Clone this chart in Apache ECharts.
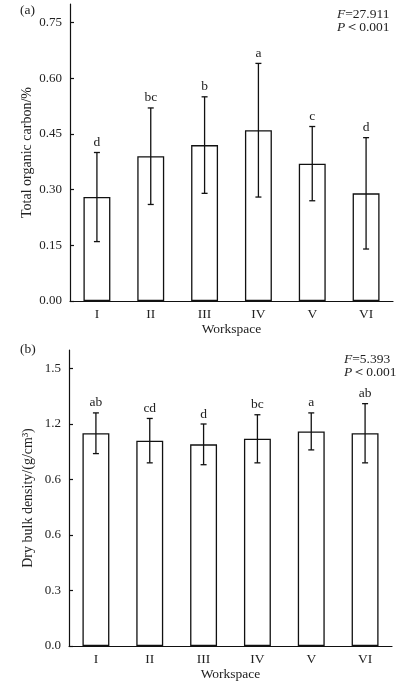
<!DOCTYPE html>
<html>
<head>
<meta charset="utf-8">
<script src="https://cdn.jsdelivr.net/npm/echarts@6/dist/echarts.min.js"></script>
<style>
html,body{margin:0;padding:0;background:#fff;}
#chart{width:414px;height:685px;}
</style>
</head>
<body>
<div id="chart"></div>
<script>
var categories = ['I', 'II', 'III', 'IV', 'V', 'VI'];

var tocMean = [0.28, 0.39, 0.42, 0.46, 0.37, 0.29];
var tocLow  = [0.16, 0.26, 0.29, 0.28, 0.27, 0.14];
var tocHigh = [0.40, 0.52, 0.55, 0.64, 0.47, 0.44];
var tocLetters = ['d', 'bc', 'b', 'a', 'c', 'd'];
var tocTicks = [0, 0.15, 0.30, 0.45, 0.60, 0.75];
var tocTickLabels = ['0.00', '0.15', '0.30', '0.45', '0.60', '0.75'];

var bdMean = [1.15, 1.11, 1.09, 1.12, 1.16, 1.15];
var bdLow  = [1.04, 0.99, 0.98, 0.99, 1.06, 0.99];
var bdHigh = [1.26, 1.23, 1.20, 1.25, 1.26, 1.31];
var bdLetters = ['ab', 'cd', 'd', 'bc', 'a', 'ab'];
var bdTicks = [0, 0.3, 0.6, 0.9, 1.2, 1.5];
var bdTickLabels = ['0.0', '0.3', '0.6', '0.6', '1.2', '1.5'];

var FONT = '"Liberation Serif", "Times New Roman", serif';
var TXT = '#222';

function errData(lo, hi, letters) {
  return lo.map(function (v, i) { return [i, v, hi[i], letters[i]]; });
}

function errRender(params, api) {
  var i = api.value(0);
  var pHi = api.coord([i, api.value(2)]);
  var pLo = api.coord([i, api.value(1)]);
  var x = pHi[0];
  var cap = 3;
  var st = { stroke: '#111', lineWidth: 1.3 };
  return {
    type: 'group',
    children: [
      { type: 'line', shape: { x1: x, y1: pHi[1], x2: x, y2: pLo[1] }, style: st },
      { type: 'line', shape: { x1: x - cap, y1: pHi[1], x2: x + cap, y2: pHi[1] }, style: st },
      { type: 'line', shape: { x1: x - cap, y1: pLo[1], x2: x + cap, y2: pLo[1] }, style: st },
      { type: 'text', style: { x: x, y: pHi[1] - 3, text: api.value(3), align: 'center', verticalAlign: 'bottom', fontFamily: FONT, fontSize: 13.5, fill: TXT } }
    ]
  };
}

function yAxisCfg(gridIndex, max, ticks, labels, name, gap) {
  return {
    type: 'value', gridIndex: gridIndex, min: 0, max: max,
    name: name, nameLocation: 'middle', nameGap: gap, nameRotate: 90, nameMoveOverlap: false,
    nameTextStyle: { fontFamily: FONT, fontSize: 14, color: TXT },
    axisLine: { show: true, lineStyle: { color: '#111', width: 1.2 } },
    axisTick: { show: true, inside: true, length: 4, customValues: ticks, lineStyle: { color: '#111', width: 1.2 } },
    axisLabel: {
      customValues: ticks, margin: 8, fontFamily: FONT, fontSize: 13, color: TXT,
      formatter: function (v) {
        for (var k = 0; k < ticks.length; k++) { if (Math.abs(ticks[k] - v) < 1e-6) return labels[k]; }
        return '';
      }
    },
    splitLine: { show: false }
  };
}

function xAxisCfg(gridIndex) {
  return {
    type: 'category', gridIndex: gridIndex, data: categories,
    name: 'Workspace', nameLocation: 'middle', nameGap: 21, nameMoveOverlap: false,
    nameTextStyle: { fontFamily: FONT, fontSize: 13.5, color: TXT },
    axisLine: { show: true, lineStyle: { color: '#111', width: 1.2 } },
    axisTick: { show: false },
    axisLabel: { margin: 6, fontFamily: FONT, fontSize: 13.5, color: TXT }
  };
}

var chart = echarts.init(document.getElementById('chart'), null, { renderer: 'canvas' });
chart.setOption({
  backgroundColor: '#fff',
  animation: false,
  grid: [
    { left: 70, right: 21, top: 4, bottom: 384 },
    { left: 69, right: 22, top: 350, bottom: 39 }
  ],
  xAxis: [xAxisCfg(0), xAxisCfg(1)],
  yAxis: [
    yAxisCfg(0, 0.8, tocTicks, tocTickLabels, 'Total organic carbon/%', 36),
    yAxisCfg(1, 1.6, bdTicks, bdTickLabels, 'Dry bulk density/(g/cm³)', 34)
  ],
  series: [
    { type: 'bar', xAxisIndex: 0, yAxisIndex: 0, data: tocMean, barWidth: '50%',
      itemStyle: { color: '#fff', borderColor: '#111', borderWidth: 1.3 } },
    { type: 'custom', xAxisIndex: 0, yAxisIndex: 0, data: errData(tocLow, tocHigh, tocLetters),
      renderItem: errRender, encode: { x: 0, y: [1, 2] }, z: 5 },
    { type: 'bar', xAxisIndex: 1, yAxisIndex: 1, data: bdMean, barWidth: '50%',
      itemStyle: { color: '#fff', borderColor: '#111', borderWidth: 1.3 } },
    { type: 'custom', xAxisIndex: 1, yAxisIndex: 1, data: errData(bdLow, bdHigh, bdLetters),
      renderItem: errRender, encode: { x: 0, y: [1, 2] }, z: 5 }
  ],
  graphic: [
    { type: 'text', left: 20, top: 3, style: { text: '(a)', fontFamily: FONT, fontSize: 13.5, fill: TXT } },
    { type: 'text', left: 20, top: 342, style: { text: '(b)', fontFamily: FONT, fontSize: 13.5, fill: TXT } },
    { type: 'text', left: 337, top: 7, style: { text: '{i|F}=27.911\n{i|P}＜0.001', fontFamily: FONT, fontSize: 13.5, lineHeight: 13, fill: TXT,
        rich: { i: { fontStyle: 'italic', fontFamily: FONT, fontSize: 13.5, fill: TXT } } } },
    { type: 'text', left: 344, top: 352, style: { text: '{i|F}=5.393\n{i|P}＜0.001', fontFamily: FONT, fontSize: 13.5, lineHeight: 13, fill: TXT,
        rich: { i: { fontStyle: 'italic', fontFamily: FONT, fontSize: 13.5, fill: TXT } } } }
  ]
});
</script>
</body>
</html>
